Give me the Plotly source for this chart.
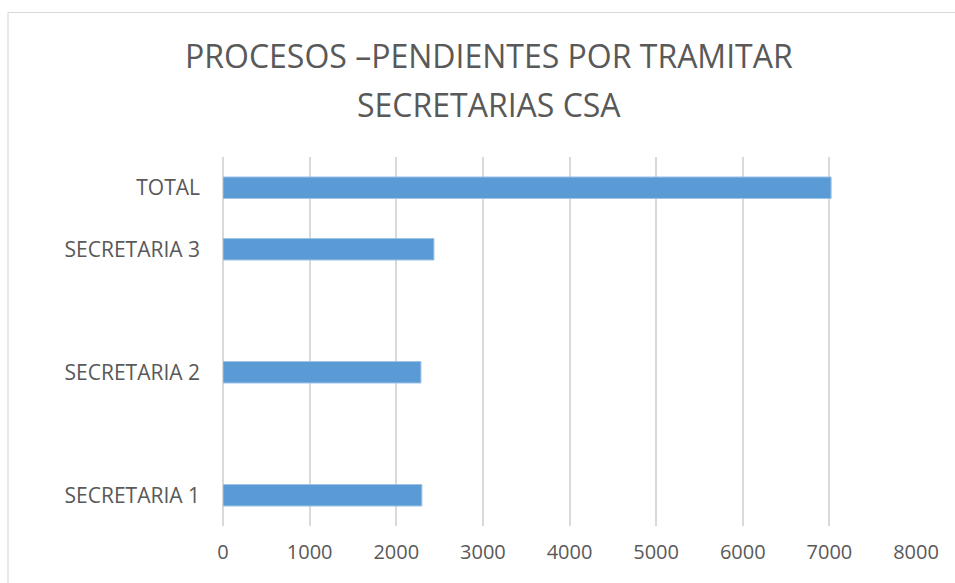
import plotly.graph_objects as go

categories = ["SECRETARIA 1", " ", "SECRETARIA 2", "  ", "SECRETARIA 3", "TOTAL"]
values = [2296, None, 2285, None, 2435, 7020]
x_ticks = [0, 1000, 2000, 3000, 4000, 5000, 6000, 7000, 8000]
title_lines = ["PROCESOS –PENDIENTES POR TRAMITAR", "SECRETARIAS CSA"]

FONT = "Open Sans"
GRAY = "#595959"

fig = go.Figure(
    go.Bar(
        x=values,
        y=categories,
        orientation="h",
        width=0.35,
        marker=dict(color="#5b9bd5", line=dict(color="#9dc3e6", width=1)),
    )
)

W, H = 955, 583
L, R, T, B = 223, 39, 157, 57
pw, ph = W - L - R, H - T - B

def px_x(p):
    return (p - L) / pw

def px_y(p):
    return (H - B - p) / ph

annotations = [
    dict(text=title_lines[0], x=px_x(489), y=px_y(56), xref="paper", yref="paper",
         xanchor="center", yanchor="middle", showarrow=False,
         font=dict(family=FONT, size=32, color=GRAY)),
    dict(text=title_lines[1], x=px_x(489), y=px_y(104), xref="paper", yref="paper",
         xanchor="center", yanchor="middle", showarrow=False,
         font=dict(family=FONT, size=32, color=GRAY)),
]

fig.update_layout(
    width=W,
    height=H,
    margin=dict(l=L, r=R, t=T, b=B),
    paper_bgcolor="white",
    plot_bgcolor="white",
    showlegend=False,
    annotations=annotations,
    xaxis=dict(
        range=[0, 8000],
        tickvals=x_ticks,
        showgrid=True,
        gridcolor="#d9d9d9",
        gridwidth=1.5,
        zeroline=True,
        zerolinecolor="#d9d9d9",
        zerolinewidth=1.5,
        showline=False,
        tickfont=dict(family=FONT, size=20, color=GRAY),
        ticklabelstandoff=12,
        fixedrange=True,
    ),
    yaxis=dict(
        type="category",
        categoryorder="array",
        categoryarray=categories,
        showgrid=False,
        zeroline=False,
        showline=False,
        tickfont=dict(family=FONT, size=21, color=GRAY),
        ticklabelstandoff=22,
        fixedrange=True,
    ),
    shapes=[
        dict(type="line", xref="paper", yref="paper",
             x0=px_x(8), x1=px_x(960), y0=px_y(12.5), y1=px_y(12.5),
             line=dict(color="#d9d9d9", width=1.2)),
        dict(type="line", xref="paper", yref="paper",
             x0=px_x(8), x1=px_x(8), y0=px_y(12.5), y1=px_y(590),
             line=dict(color="#d9d9d9", width=1.2)),
    ],
)

fig.write_html(
    "out.html",
    config={"displayModeBar": False},
    post_script="document.body.style.margin='0';document.body.style.overflow='hidden';",
)
